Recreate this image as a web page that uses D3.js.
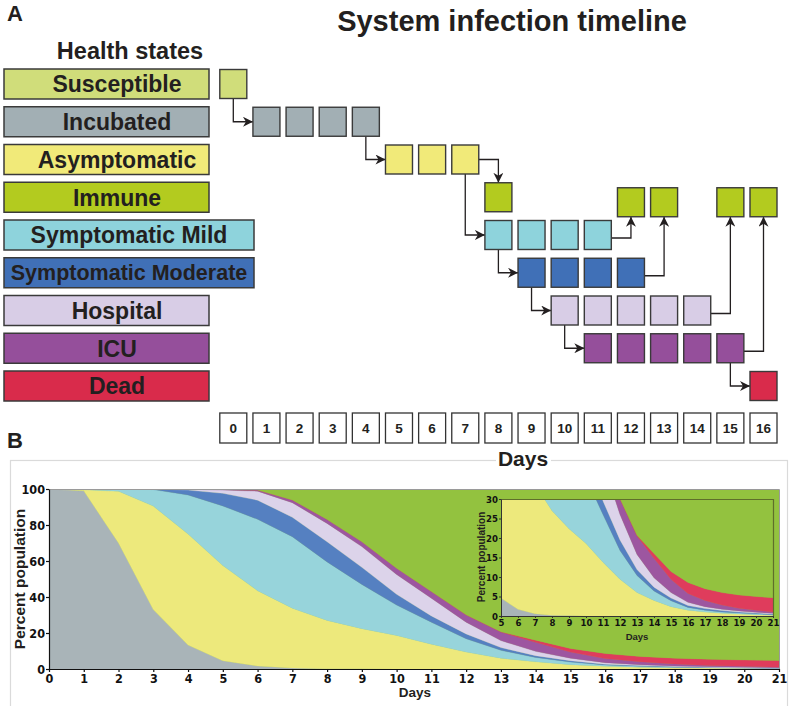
<!DOCTYPE html>
<html><head><meta charset="utf-8">
<script src="https://cdn.jsdelivr.net/npm/d3@7"></script>
<style>body{margin:0;background:#fff}svg{display:block}</style>
</head><body><svg id="c" width="791" height="706"></svg>
<script>
// ---------- Panel A data ----------
const states = ["Susceptible","Incubated","Asymptomatic","Immune","Symptomatic Mild","Symptomatic Moderate","Hospital","ICU","Dead"];
const stateColors = ["#d0dd7a","#a2afb4","#f1ea79","#b3cb1f","#8ed3dc","#4070b7","#d8cde6","#954f9b","#d92b4b"];
const stateDays = [[0],[1,2,3,4],[5,6,7],[8,12,13,15,16],[8,9,10,11],[9,10,11,12],[10,11,12,13,14],[11,12,13,14,15],[16]];
const transitions = [
  {from:"Susceptible", fromDay:0, to:"Incubated", toDay:1, route:"down"},
  {from:"Incubated", fromDay:4, to:"Asymptomatic", toDay:5, route:"down"},
  {from:"Asymptomatic", fromDay:7, to:"Immune", toDay:8, route:"over"},
  {from:"Asymptomatic", fromDay:7, to:"Symptomatic Mild", toDay:8, route:"down"},
  {from:"Symptomatic Mild", fromDay:8, to:"Symptomatic Moderate", toDay:9, route:"down"},
  {from:"Symptomatic Moderate", fromDay:9, to:"Hospital", toDay:10, route:"down"},
  {from:"Hospital", fromDay:10, to:"ICU", toDay:11, route:"down"},
  {from:"ICU", fromDay:15, to:"Dead", toDay:16, route:"down"},
  {from:"Symptomatic Mild", fromDay:11, to:"Immune", toDay:12, route:"up"},
  {from:"Symptomatic Moderate", fromDay:12, to:"Immune", toDay:13, route:"up"},
  {from:"Hospital", fromDay:14, to:"Immune", toDay:15, route:"up"},
  {from:"ICU", fromDay:15, to:"Immune", toDay:16, route:"up"}
];
const timelineDays = [0,1,2,3,4,5,6,7,8,9,10,11,12,13,14,15,16];

// ---------- Panel B data (percent of population per state) ----------
const days = [0,1,2,3,4,5,6,7,8,9,10,11,12,13,14,15,16,17,18,19,20,21];
const incubated    = [100,99,70,33,13.3,4.6,1.7,0.6,0.2,0.1,0,0,0,0,0,0,0,0,0,0,0,0];
const asymptomatic = [0,0.6,28.7,57.5,61.7,52.9,41.8,33.1,26.8,22.3,18.6,13.8,9.4,6,4,2.4,1.5,1,0.7,0.5,0.35,0.2];
const mild         = [0,0.4,1.2,9.2,21.7,33.1,39.7,39.8,32.5,24.6,16.9,12.2,7.4,4.4,2.4,1.5,0.7,0.5,0.3,0.3,0.2,0.15];
const moderate     = [0,0,0.1,0.3,2.7,7,10.6,10.8,11.2,9.5,6,3.5,2.7,1.5,1,0.7,0.5,0.4,0.4,0.2,0.2,0.15];
const hospital     = [0,0,0,0,0.5,1.8,5,8.1,10.2,11.5,11,9.8,6.5,3.9,2.4,1.4,0.8,0.5,0.3,0.3,0.2,0.2];
const icu          = [0,0,0,0,0.1,0.4,0.6,1.5,2.2,2.7,3.5,3.7,4,4.7,5,3.4,2.3,1.6,1.1,0.7,0.55,0.3];
const dead         = [0,0,0,0,0,0,0,0,0,0,0,0,0.1,0.2,1.2,2,2.8,3,3.2,3.4,3.5,3.7];
const immune       = [0,0,0,0,0,0.2,0.6,6.1,16.9,29.3,44,57,69.9,79.3,84,88.6,91.4,93,94,94.6,95,95.3];
const seriesKeys   = ["incubated","asymptomatic","mild","moderate","hospital","icu","dead","immune"];
const seriesColors = ["#a9b4b8","#ede97c","#97d4db","#5580c1","#dcd3ea","#9d56a0","#df3c5c","#93c23f"];
const yTicks = [0,20,40,60,80,100];
const insetXTicks = [5,6,7,8,9,10,11,12,13,14,15,16,17,18,19,20,21];
const insetYTicks = [0,5,10,15,20,25,30];

const FONT = "'Liberation Sans', Arial, Helvetica, sans-serif";
const NARROW = "'Liberation Sans Narrow', 'Arial Narrow', 'DejaVu Sans Condensed', sans-serif";
const INK = "#231f20";

const svg = d3.select("#c");
svg.append("rect").attr("width",791).attr("height",706).attr("fill","#fff");

const defs = svg.append("defs");
defs.append("marker").attr("id","arr").attr("markerUnits","userSpaceOnUse")
  .attr("viewBox","0 0 10 10").attr("markerWidth",10).attr("markerHeight",10)
  .attr("refX",10).attr("refY",5).attr("orient","auto")
  .append("path").attr("d","M0,0 L10,5 L0,10 L3,5 Z").attr("fill",INK);

// ---------- Panel A ----------
svg.append("text").attr("x",7).attr("y",21).text("A")
  .attr("font-family",FONT).attr("font-weight","bold").attr("font-size",22).attr("fill",INK);
svg.append("text").attr("x",512).attr("y",31).attr("text-anchor","middle").text("System infection timeline")
  .attr("font-family",FONT).attr("font-weight","bold").attr("font-size",29).attr("fill",INK);
svg.append("text").attr("x",130).attr("y",59).attr("text-anchor","middle").text("Health states")
  .attr("font-family",FONT).attr("font-weight","bold").attr("font-size",23.5).attr("fill",INK);

const rowY = d3.scalePoint().domain(states).range([84,386]);
const xDay = d3.scaleLinear().domain([0,16]).range([233.3,763.5]);
const boxW = 27, boxH = 29;
const immuneShift = (s,d) => (s==="Immune" && d>8) ? 5 : 0;

// legend boxes
const leg = svg.append("g").selectAll("g").data(states).join("g");
leg.append("rect")
  .attr("x",4).attr("y",d=>rowY(d)-15)
  .attr("width",d=>d.length>12?250:205).attr("height",30)
  .attr("fill",(d,i)=>stateColors[i]).attr("stroke","#3a3a3a").attr("stroke-width",1.5);
leg.append("text")
  .attr("x",d=>d.length>12?129:117).attr("y",d=>rowY(d)).attr("dy","0.36em")
  .attr("text-anchor","middle").text(d=>d)
  .attr("font-family",FONT).attr("font-weight","bold").attr("font-size",d=>d.length>16?21.5:23).attr("fill",INK);

// arrows
const arrowG = svg.append("g");
transitions.forEach(t=>{
  let p;
  if(t.route==="down"){
    p = `M${xDay(t.fromDay)},${rowY(t.from)+boxH/2} V${rowY(t.to)} H${xDay(t.toDay)-boxW/2}`;
  } else if(t.route==="over"){
    p = `M${xDay(t.fromDay)+boxW/2},${rowY(t.from)} H${xDay(t.toDay)} V${rowY(t.to)-boxH/2+immuneShift(t.to,t.toDay)}`;
  } else {
    p = `M${xDay(t.fromDay)+boxW/2},${rowY(t.from)+3} H${xDay(t.toDay)} V${rowY(t.to)+boxH/2+immuneShift(t.to,t.toDay)}`;
  }
  arrowG.append("path").attr("d",p).attr("fill","none").attr("stroke",INK)
    .attr("stroke-width",1.3).attr("marker-end","url(#arr)");
});

// timeline squares
const cells = [];
states.forEach((s,i)=>stateDays[i].forEach(d=>cells.push({s,d,c:stateColors[i]})));
svg.append("g").selectAll("rect").data(cells).join("rect")
  .attr("x",d=>xDay(d.d)-boxW/2).attr("y",d=>rowY(d.s)-boxH/2+immuneShift(d.s,d.d))
  .attr("width",boxW).attr("height",boxH)
  .attr("fill",d=>d.c).attr("stroke","#3a3a3a").attr("stroke-width",1.4);

// day boxes
const dayG = svg.append("g").selectAll("g").data(timelineDays).join("g");
dayG.append("rect").attr("x",d=>xDay(d)-13.5).attr("y",413).attr("width",27).attr("height",30)
  .attr("fill","#fff").attr("stroke","#333").attr("stroke-width",1.3);
dayG.append("text").attr("x",d=>xDay(d)).attr("y",428).attr("dy","0.36em").attr("text-anchor","middle")
  .text(d=>d).attr("font-family",FONT).attr("font-weight","bold").attr("font-size",13.5).attr("fill",INK);

// ---------- Panel B ----------
svg.append("rect").attr("x",10.5).attr("y",460.5).attr("width",777).attr("height",300)
  .attr("fill","none").attr("stroke","#dadada").attr("stroke-width",1.2);
svg.append("rect").attr("x",496).attr("y",452).attr("width",55).attr("height",14).attr("fill","#fff");
svg.append("text").attr("x",523).attr("y",466).attr("text-anchor","middle").text("Days")
  .attr("font-family",FONT).attr("font-weight","bold").attr("font-size",21).attr("fill",INK);
svg.append("text").attr("x",7).attr("y",448).text("B")
  .attr("font-family",FONT).attr("font-weight","bold").attr("font-size",22).attr("fill",INK);

const table = days.map((d,i)=>({day:d, incubated:incubated[i], asymptomatic:asymptomatic[i], mild:mild[i],
  moderate:moderate[i], hospital:hospital[i], icu:icu[i], dead:dead[i], immune:immune[i]}));
const stacked = d3.stack().keys(seriesKeys)(table);

const x = d3.scaleLinear().domain([0,21]).range([49,779]);
const y = d3.scaleLinear().domain([0,100]).range([669,489]);

defs.append("clipPath").attr("id","mainClip").append("rect").attr("x",49).attr("y",489).attr("width",730).attr("height",180);
const area = d3.area().x(d=>x(d.data.day)).y0(d=>y(d[0])).y1(d=>y(Math.min(100,d[1])));
const mainG = svg.append("g").attr("clip-path","url(#mainClip)");
mainG.append("rect").attr("x",49).attr("y",489).attr("width",730).attr("height",180).attr("fill",seriesColors[7]);
mainG.selectAll("path").data(stacked).join("path").attr("d",area)
  .attr("fill",(d,i)=>seriesColors[i]).attr("stroke",(d,i)=>seriesColors[i]).attr("stroke-width",0.3);

// plot frame top/right
svg.append("path").attr("d","M49,489.5 H779.5 V669").attr("fill","none").attr("stroke","#9a9a9a").attr("stroke-width",1);

const yAx = svg.append("g").attr("transform","translate(49,0)")
  .call(d3.axisLeft(y).tickValues(yTicks).tickSize(3).tickSizeOuter(0));
const xAx = svg.append("g").attr("transform","translate(0,669)")
  .call(d3.axisBottom(x).tickValues(days).tickSize(3).tickSizeOuter(0));
[yAx,xAx].forEach(a=>{
  a.selectAll("path,line").attr("stroke","#111").attr("stroke-width",1.2);
  a.selectAll("text").attr("font-family",NARROW).attr("font-weight","bold").attr("font-size",12.5).attr("fill","#111");
});
yAx.selectAll("text").attr("x",-4);
xAx.selectAll("text").attr("y",5);

svg.append("text").attr("transform","translate(20,579) rotate(-90)").attr("text-anchor","middle").attr("dy","0.35em")
  .text("Percent population").attr("font-family",FONT).attr("font-weight","bold").attr("font-size",15.5).attr("fill",INK);
svg.append("text").attr("x",415).attr("y",697).attr("text-anchor","middle").text("Days")
  .attr("font-family",FONT).attr("font-weight","bold").attr("font-size",13.5).attr("fill",INK);

// ---------- Inset ----------
const xi = d3.scaleLinear().domain([5,21]).range([501,773]);
const yi = d3.scaleLinear().domain([0,30]).range([616,499]);
defs.append("clipPath").attr("id","insetClip").append("rect").attr("x",501).attr("y",499).attr("width",272).attr("height",117);
const areaI = d3.area().x(d=>xi(d.data.day)).y0(d=>yi(d[0])).y1(d=>yi(d[1]));
const insetG = svg.append("g").attr("clip-path","url(#insetClip)");
insetG.append("rect").attr("x",501).attr("y",499).attr("width",272).attr("height",117).attr("fill",seriesColors[7]);
insetG.selectAll("path").data(stacked).join("path").attr("d",areaI)
  .attr("fill",(d,i)=>seriesColors[i]).attr("stroke",(d,i)=>seriesColors[i]).attr("stroke-width",0.3);
svg.append("path").attr("d","M501,499.5 H773.5 V616").attr("fill","none").attr("stroke","#5f6e2a").attr("stroke-width",1.2);

const yAxI = svg.append("g").attr("transform","translate(501,0)")
  .call(d3.axisLeft(yi).tickValues(insetYTicks).tickSize(2).tickSizeOuter(0));
const xAxI = svg.append("g").attr("transform","translate(0,616)")
  .call(d3.axisBottom(xi).tickValues(insetXTicks).tickSize(2).tickSizeOuter(0));
[yAxI,xAxI].forEach(a=>{
  a.selectAll("path,line").attr("stroke","#333").attr("stroke-width",1);
  a.selectAll("text").attr("font-family",NARROW).attr("font-weight","bold").attr("font-size",9.5).attr("fill","#111");
});
yAxI.selectAll("text").attr("x",-3);
xAxI.selectAll("text").attr("y",3);
svg.append("text").attr("transform","translate(481,557) rotate(-90)").attr("text-anchor","middle").attr("dy","0.35em")
  .text("Percent population").attr("font-family",FONT).attr("font-weight","bold").attr("font-size",10).attr("fill",INK);
svg.append("text").attr("x",637).attr("y",640).attr("text-anchor","middle").text("Days")
  .attr("font-family",FONT).attr("font-weight","bold").attr("font-size",9.5).attr("fill",INK);
</script></body></html>
